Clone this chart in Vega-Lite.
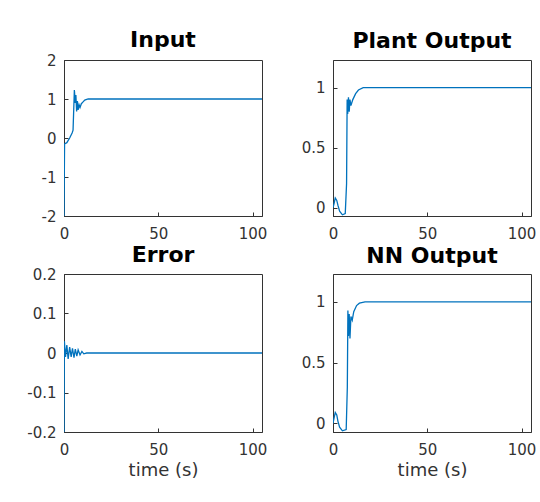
{
  "$schema": "https://vega.github.io/schema/vega-lite/v6.json",
  "background": "white",
  "padding": {"left": 26, "top": 28, "right": 0, "bottom": 0},
  "datasets": {
    "input": [
      {"t": 0, "v": -2.0}, {"t": 0.3, "v": -0.15}, {"t": 1.5, "v": -0.12}, {"t": 3, "v": 0.0},
      {"t": 4.3, "v": 0.13}, {"t": 4.8, "v": 0.2}, {"t": 5.5, "v": 1.23}, {"t": 6.0, "v": 0.9},
      {"t": 6.3, "v": 1.1}, {"t": 6.7, "v": 0.68}, {"t": 7.1, "v": 0.95}, {"t": 7.5, "v": 0.72},
      {"t": 8.0, "v": 0.85}, {"t": 8.5, "v": 0.78}, {"t": 9.2, "v": 0.88}, {"t": 10, "v": 0.92},
      {"t": 11, "v": 0.97}, {"t": 12.8, "v": 1.0}, {"t": 105, "v": 1.0}
    ],
    "plant": [
      {"t": 0, "v": 0.0}, {"t": 0.5, "v": 0.03}, {"t": 1.2, "v": 0.08}, {"t": 2.0, "v": 0.06},
      {"t": 2.6, "v": 0.02}, {"t": 3.5, "v": -0.03}, {"t": 5, "v": -0.06}, {"t": 6.5, "v": -0.05},
      {"t": 7.2, "v": 0.2}, {"t": 7.5, "v": 0.9}, {"t": 7.8, "v": 0.78}, {"t": 8.2, "v": 0.92},
      {"t": 8.6, "v": 0.8}, {"t": 9.0, "v": 0.9}, {"t": 9.5, "v": 0.85}, {"t": 10.5, "v": 0.9},
      {"t": 12, "v": 0.95}, {"t": 13.5, "v": 0.98}, {"t": 16, "v": 1.0}, {"t": 105, "v": 1.0}
    ],
    "error": [
      {"t": 0, "v": -0.2}, {"t": 0.2, "v": 0.03}, {"t": 0.8, "v": -0.01}, {"t": 1.5, "v": 0.02},
      {"t": 2.2, "v": -0.015}, {"t": 3, "v": 0.015}, {"t": 3.8, "v": -0.01}, {"t": 4.5, "v": 0.012},
      {"t": 5.3, "v": -0.012}, {"t": 6, "v": 0.01}, {"t": 6.8, "v": -0.008}, {"t": 7.5, "v": 0.008},
      {"t": 8.5, "v": -0.005}, {"t": 9.5, "v": 0.004}, {"t": 10.5, "v": -0.002}, {"t": 12, "v": 0.0},
      {"t": 105, "v": 0.0}
    ],
    "nn": [
      {"t": 0, "v": 0.0}, {"t": 0.5, "v": 0.04}, {"t": 1.2, "v": 0.09}, {"t": 2, "v": 0.07},
      {"t": 2.6, "v": 0.02}, {"t": 3.5, "v": -0.03}, {"t": 5, "v": -0.06}, {"t": 7, "v": -0.05},
      {"t": 7.6, "v": 0.3}, {"t": 7.9, "v": 0.93}, {"t": 8.2, "v": 0.72}, {"t": 8.6, "v": 0.9},
      {"t": 9, "v": 0.7}, {"t": 9.5, "v": 0.88}, {"t": 10.2, "v": 0.85}, {"t": 11, "v": 0.92},
      {"t": 12.5, "v": 0.97}, {"t": 14, "v": 0.99}, {"t": 17, "v": 1.0}, {"t": 105, "v": 1.0}
    ]
  },
  "columns": 2,
  "spacing": {"row": 58, "column": 71},
  "bounds": "flush",
  "concat": [
    {
      "data": {"name": "input"},
      "title": {"text": "Input", "offset": 1},
      "width": 198, "height": 156,
      "mark": {"type": "line", "color": "#0072BD", "strokeWidth": 1.3, "clip": true},
      "encoding": {
        "x": {"field": "t", "type": "quantitative", "scale": {"domain": [0, 105], "nice": false}, "axis": {"values": [0, 50, 100], "title": null}},
        "y": {"field": "v", "type": "quantitative", "scale": {"domain": [-2, 2], "nice": false, "zero": false}, "axis": {"values": [-2, -1, 0, 1, 2], "title": null}}
      }
    },
    {
      "data": {"name": "plant"},
      "title": {"text": "Plant Output", "offset": 7},
      "width": 198, "height": 156,
      "mark": {"type": "line", "color": "#0072BD", "strokeWidth": 1.3, "clip": true},
      "encoding": {
        "x": {"field": "t", "type": "quantitative", "scale": {"domain": [0, 105], "nice": false}, "axis": {"values": [0, 50, 100], "title": null}},
        "y": {"field": "v", "type": "quantitative", "scale": {"domain": [-0.07, 1.23], "nice": false, "zero": false}, "axis": {"values": [0, 0.5, 1], "title": null}}
      }
    },
    {
      "data": {"name": "error"},
      "title": {"text": "Error", "offset": 0},
      "width": 198, "height": 158,
      "mark": {"type": "line", "color": "#0072BD", "strokeWidth": 1.3, "clip": true},
      "encoding": {
        "x": {"field": "t", "type": "quantitative", "scale": {"domain": [0, 105], "nice": false}, "axis": {"values": [0, 50, 100], "title": "time (s)"}},
        "y": {"field": "v", "type": "quantitative", "scale": {"domain": [-0.2, 0.2], "nice": false, "zero": false}, "axis": {"values": [-0.2, -0.1, 0, 0.1, 0.2], "title": null}}
      }
    },
    {
      "data": {"name": "nn"},
      "title": {"text": "NN Output", "offset": 6},
      "width": 198, "height": 158,
      "mark": {"type": "line", "color": "#0072BD", "strokeWidth": 1.3, "clip": true},
      "encoding": {
        "x": {"field": "t", "type": "quantitative", "scale": {"domain": [0, 105], "nice": false}, "axis": {"values": [0, 50, 100], "title": "time (s)"}},
        "y": {"field": "v", "type": "quantitative", "scale": {"domain": [-0.07, 1.23], "nice": false, "zero": false}, "axis": {"values": [0, 0.5, 1], "title": null}}
      }
    }
  ],
  "config": {
    "font": "DejaVu Sans",
    "view": {"stroke": "#333333", "strokeWidth": 1},
    "axis": {
      "grid": false,
      "domainColor": "#333333",
      "tickColor": "#333333",
      "tickSize": -4,
      "labelPadding": 12,
      "labelFlush": false,
      "labelColor": "#333333",
      "labelFont": "DejaVu Sans",
      "labelFontSize": 15,
      "titleFont": "DejaVu Sans",
      "titleFontSize": 18,
      "titleFontWeight": "normal",
      "titleColor": "#333333",
      "titlePadding": 4,
      "labelExpr": "datum.value < 0 ? '-' + (-datum.value) : '' + datum.value"
    },
    "axisX": {"labelPadding": 14},
    "title": {"font": "DejaVu Sans", "fontSize": 22, "fontWeight": "bold", "color": "black", "frame": "group", "anchor": "middle", "baseline": "alphabetic"}
  }
}
